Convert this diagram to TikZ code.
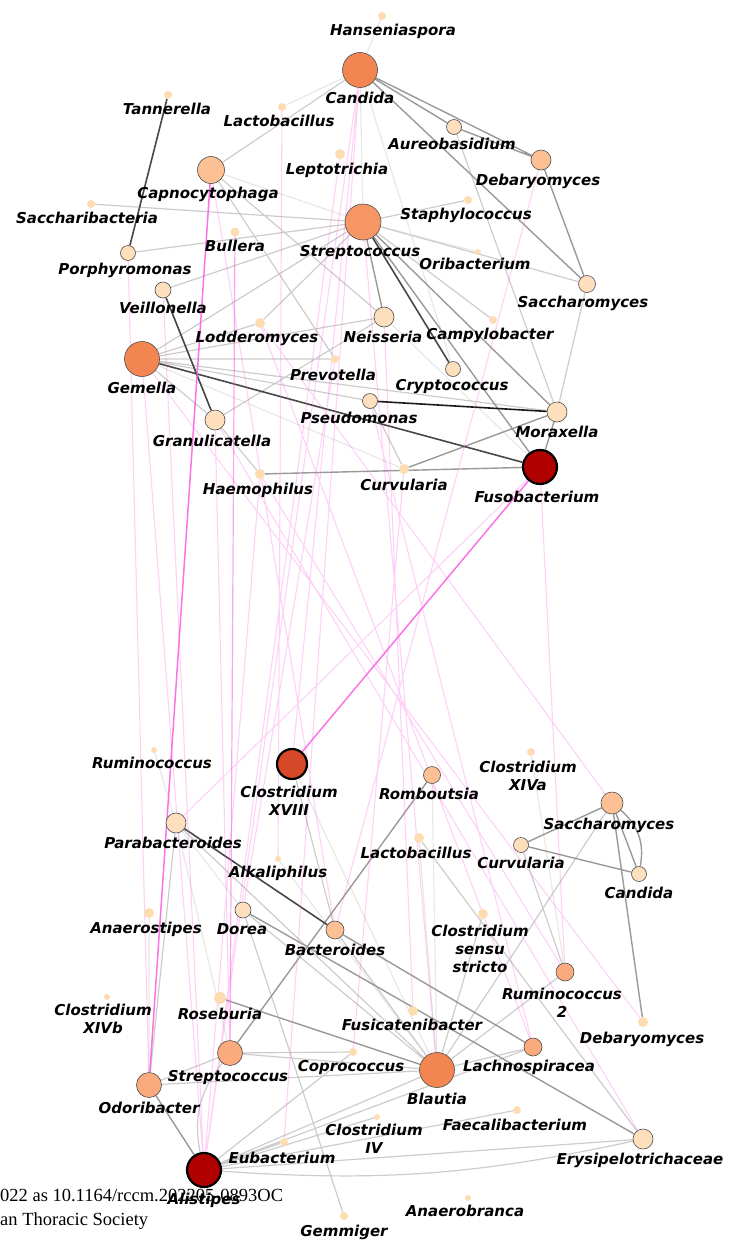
\documentclass[tikz,border=0pt]{standalone}
\usepackage{fontspec}
\newfontfamily\taxfont{DejaVu Sans}
\newfontfamily\footfont{Liberation Serif}
\usetikzlibrary{backgrounds}
\definecolor{orng}{RGB}{243,134,80}
\definecolor{orngl}{RGB}{246,150,100}
\definecolor{salmon}{RGB}{250,170,125}
\definecolor{peach}{RGB}{253,192,148}
\definecolor{pale}{RGB}{253,223,190}
\definecolor{dotc}{RGB}{253,220,178}
\definecolor{dred}{RGB}{176,0,0}
\definecolor{redor}{RGB}{214,72,40}
\definecolor{pinkE}{RGB}{250,90,225}
\tikzset{
  taxon/.style={circle, draw=black!70, line width=0.6pt, inner sep=0pt},
  hub/.style={circle, draw=black, line width=2.2pt, inner sep=0pt, minimum size=34pt},
  dot/.style={circle, fill=dotc, inner sep=0pt, minimum size=8pt},
  tiny/.style={circle, fill=dotc, inner sep=0pt, minimum size=6pt},
  xl/.style={taxon, minimum size=35pt},
  lg/.style={taxon, minimum size=25pt},
  md/.style={taxon, minimum size=20pt},
  sm/.style={taxon, minimum size=15pt},
  lab/.style={font=\taxfont\bfseries\itshape\fontsize{15}{18}\selectfont, inner sep=0pt, align=center},
  foot/.style={font=\footfont\fontsize{18.5}{22}\selectfont, inner sep=0pt},
  darkE/.style={draw=black!72, line width=1.6pt},
  blackE/.style={draw=black!90, line width=1.6pt},
  midE/.style={draw=black!40, line width=1.4pt},
  liteE/.style={draw=black!20, line width=1.2pt},
  faintE/.style={draw=black!9, line width=1.2pt},
  strongP/.style={draw=pinkE, line width=1.5pt, opacity=.85},
  midP/.style={draw=pinkE, line width=1.2pt, opacity=.55},
  liteP/.style={draw=pinkE, line width=1.1pt, opacity=.27},
}

\begin{document}
\begin{tikzpicture}[x=1pt, y=-1pt]
\useasboundingbox (0,0) rectangle (733,1240);

% upper network
\node[dot] (hans) at (382,16) {};
\node[xl, fill=orng] (candT) at (360,70) {};
\node[dot] (tann) at (168,95) {};
\node[dot] (lactT) at (282,107) {};
\node[taxon, fill=peach, minimum size=27pt] (capno) at (211,170) {};
\node[dot, minimum size=10pt] (lepto) at (340,154) {};
\node[dot] (sacch) at (91,204) {};
\node[dot, minimum size=9pt] (bull) at (235,232) {};
\node[taxon, fill=orngl, minimum size=36pt] (strT) at (363,222) {};
\node[sm, fill=pale] (aureo) at (454,127) {};
\node[md, fill=peach] (debT) at (541,160) {};
\node[dot] (staph) at (468,200) {};
\node[tiny] (orib) at (478,252) {};
\node[taxon, fill=pale, minimum size=17pt] (sacT) at (587,284) {};
\node[sm, fill=pale] (porph) at (128,253) {};
\node[taxon, fill=pale, minimum size=16pt] (veil) at (163,290) {};
\node[dot, minimum size=10pt] (lodd) at (260,323) {};
\node[md, fill=pale] (neis) at (384,317) {};
\node[dot] (campy) at (493,320) {};
\node[xl, fill=orng] (gem) at (142,359) {};
\node[dot] (prev) at (335,359) {};
\node[sm, fill=pale] (crypto) at (453,369) {};
\node[sm, fill=pale] (pseu) at (370,401) {};
\node[md, fill=pale] (morax) at (557,412) {};
\node[md, fill=pale] (granu) at (215,420) {};
\node[dot, minimum size=10pt] (haem) at (260,474) {};
\node[dot, minimum size=10pt] (curvT) at (404,469) {};
\node[hub, fill=dred] (fuso) at (540,467) {};

% lower network
\node[tiny] (rumi) at (154,750) {};
\node[hub, fill=redor, minimum size=30pt] (cXVIII) at (292,764) {};
\node[taxon, fill=peach, minimum size=17pt] (romb) at (432,775) {};
\node[dot] (cXIVa) at (531,752) {};
\node[taxon, fill=peach, minimum size=22pt] (sacB) at (612,803) {};
\node[md, fill=pale] (parab) at (176,823) {};
\node[dot, minimum size=10pt] (lactB) at (419,838) {};
\node[sm, fill=pale] (curvB) at (521,845) {};
\node[sm, fill=pale] (candB) at (639,874) {};
\node[tiny] (alka) at (278,859) {};
\node[dot, minimum size=10pt] (anaero) at (149,913) {};
\node[taxon, fill=pale, minimum size=16pt] (dorea) at (243,910) {};
\node[taxon, fill=peach, minimum size=18pt] (bacter) at (335,930) {};
\node[dot, minimum size=10pt] (cSS) at (483,914) {};
\node[taxon, fill=salmon, minimum size=18pt] (rum2) at (565,972) {};
\node[tiny] (cXIVb) at (107,997) {};
\node[dot, minimum size=12pt] (roseb) at (220,998) {};
\node[dot, minimum size=10pt] (fusic) at (413,1011) {};
\node[dot, minimum size=10pt] (debB) at (643,1022) {};
\node[lg, fill=salmon] (strB) at (230,1053) {};
\node[dot] (copro) at (353,1052) {};
\node[xl, fill=orng] (blaut) at (437,1070) {};
\node[taxon, fill=salmon, minimum size=18pt] (lachno) at (533,1047) {};
\node[lg, fill=salmon] (odori) at (149,1085) {};
\node[dot] (faecal) at (517,1110) {};
\node[tiny] (cIV) at (377,1117) {};
\node[dot] (eubac) at (284,1142) {};
\node[md, fill=pale] (erysi) at (643,1139) {};
\node[hub, fill=dred] (alist) at (204,1170) {};
\node[tiny] (anaerob) at (468,1198) {};
\node[dot] (gemmi) at (344,1216) {};

\begin{scope}[on background layer]
\draw[faintE] (parab) -- (dorea) (anaero) -- (odori) (cXVIII) -- (blaut) (rumi) -- (parab)
  (alka) -- (blaut) (cXIVa) -- (rum2) (candT) -- (crypto) (orib) -- (strT) (lactT) -- (candT)
  (neis) -- (fuso) (gem) -- (curvT) (parab) -- (strB) (romb) -- (blaut) (lactB) -- (blaut)
  (capno) -- (strT) (hans) -- (candT) (candT) -- (strT);
\draw[liteE] (capno) -- (candT) (sacch) -- (strT) (lodd) -- (strT) (strT) -- (campy)
  (strT) -- (staph) (gem) -- (strT) (gem) -- (neis) (gem) -- (prev) (gem) -- (morax)
  (gem) -- (lodd) (gem) -- (granu) (gem) -- (pseu) (aureo) -- (morax) (sacT) -- (morax)
  (capno) -- (neis) (capno) -- (prev) (granu) -- (neis) (granu) -- (haem) (strT) -- (sacT)
  (porph) -- (strT) (veil) -- (strT) (pseu) -- (curvT);
\draw[liteE] (strB) -- (blaut) (alist) -- (blaut) (alist) -- (copro) (alist) -- (erysi)
  (alist) to[bend right=8] (erysi) (alist) -- (cIV) (alist) -- (faecal)
  (alist) to[bend left=25] (strB) (odori) -- (strB) (odori) -- (blaut) (dorea) -- (blaut)
  (bacter) -- (blaut) (blaut) -- (rum2) (blaut) -- (cSS) (blaut) -- (lachno) (curvB) -- (rum2)
  (sacB) -- (blaut) (dorea) -- (gemmi) (cXVIII) -- (bacter) (parab) -- (odori)
  (parab) -- (blaut) (lactB) -- (erysi) (alist) -- (lachno) (strB) -- (copro) (alist) -- (eubac);
\draw[midE] (strT) -- (neis) (romb) -- (strB) (roseb) -- (blaut) (bacter) -- (lachno)
  (dorea) -- (erysi) (sacB) -- (curvB) (curvB) -- (candB) (sacB) -- (candB)
  (sacB) to[bend left=30] (candB) (sacB) -- (debB) (candT) -- (aureo) (candT) -- (debT)
  (aureo) -- (debT) (candT) -- (sacT) (debT) -- (sacT) (strT) -- (morax) (strT) -- (fuso)
  (morax) -- (fuso) (alist) -- (odori) (haem) -- (fuso) (curvT) -- (morax);
\draw[darkE] (tann) -- (porph) (veil) -- (granu) (gem) -- (fuso) (strT) -- (crypto)
  (parab) -- (bacter);
\draw[blackE] (pseu) -- (morax);
\draw[liteP] (gem) -- (debB) (gem) -- (alist) (veil) -- (alist) (porph) -- (odori)
  (granu) -- (erysi) (haem) -- (rum2) (candT) -- (cXVIII) (candT) -- (alist) (candT) -- (eubac)
  (lepto) -- (alist) (lactT) -- (alka) (strT) -- (blaut) (neis) -- (fusic) (pseu) -- (lachno)
  (debT) -- (bacter) (curvT) -- (copro) (fuso) -- (parab) (fuso) -- (rum2) (lodd) -- (sacB)
  (lodd) -- (lachno) (prev) -- (dorea) (granu) -- (strB) (haem) -- (alist) (capno) -- (bacter);
\draw[midP] (bull) -- (strB);
\draw[strongP] (capno) -- (odori) (fuso) -- (cXVIII);
\end{scope}

\node[lab] (hans-l) at (393,31) {Hanseniaspora};
\node[lab] (candT-l) at (360,98) {Candida};
\node[lab] (tann-l) at (167,109) {Tannerella};
\node[lab] (lactT-l) at (279,121) {Lactobacillus};
\node[lab] (capno-l) at (208,194) {Capnocytophaga};
\node[lab] (lepto-l) at (337,170) {Leptotrichia};
\node[lab] (sacch-l) at (87,218) {Saccharibacteria};
\node[lab] (bull-l) at (235,246) {Bullera};
\node[lab] (strT-l) at (360,252) {Streptococcus};
\node[lab] (aureo-l) at (452,144) {Aureobasidium};
\node[lab] (debT-l) at (538,181) {Debaryomyces};
\node[lab] (staph-l) at (466,215) {Staphylococcus};
\node[lab] (orib-l) at (475,264) {Oribacterium};
\node[lab] (sacT-l) at (583,303) {Saccharomyces};
\node[lab] (porph-l) at (125,270) {Porphyromonas};
\node[lab] (veil-l) at (163,308) {Veillonella};
\node[lab] (lodd-l) at (257,338) {Lodderomyces};
\node[lab] (neis-l) at (383,337) {Neisseria};
\node[lab] (campy-l) at (490,335) {Campylobacter};
\node[lab] (gem-l) at (142,388) {Gemella};
\node[lab] (prev-l) at (333,375) {Prevotella};
\node[lab] (crypto-l) at (452,387) {Cryptococcus};
\node[lab] (pseu-l) at (359,418) {Pseudomonas};
\node[lab] (morax-l) at (557,432) {Moraxella};
\node[lab] (granu-l) at (212,441) {Granulicatella};
\node[lab] (haem-l) at (258,490) {Haemophilus};
\node[lab] (curvT-l) at (404,485) {Curvularia};
\node[lab] (fuso-l) at (537,497) {Fusobacterium};

\node[lab] (rumi-l) at (152,763) {Ruminococcus};
\node[lab] (cXVIII-l) at (289,801) {Clostridium\\XVIII};
\node[lab] (romb-l) at (429,794) {Romboutsia};
\node[lab] (cXIVa-l) at (528,776) {Clostridium\\XIVa};
\node[lab] (sacB-l) at (609,825) {Saccharomyces};
\node[lab] (parab-l) at (173,843) {Parabacteroides};
\node[lab] (lactB-l) at (416,853) {Lactobacillus};
\node[lab] (curvB-l) at (521,863) {Curvularia};
\node[lab] (candB-l) at (639,893) {Candida};
\node[lab] (alka-l) at (278,873) {Alkaliphilus};
\node[lab] (anaero-l) at (146,929) {Anaerostipes};
\node[lab] (dorea-l) at (242,929) {Dorea};
\node[lab] (bacter-l) at (335,950) {Bacteroides};
\node[lab] (cSS-l) at (480,949) {Clostridium\\sensu\\stricto};
\node[lab] (rum2-l) at (562,1003) {Ruminococcus\\2};
\node[lab] (cXIVb-l) at (103,1019) {Clostridium\\XIVb};
\node[lab] (roseb-l) at (220,1014) {Roseburia};
\node[lab] (fusic-l) at (412,1025) {Fusicatenibacter};
\node[lab] (debB-l) at (642,1039) {Debaryomyces};
\node[lab] (strB-l) at (228,1077) {Streptococcus};
\node[lab] (copro-l) at (351,1067) {Coprococcus};
\node[lab] (blaut-l) at (437,1099) {Blautia};
\node[lab] (lachno-l) at (529,1067) {Lachnospiracea};
\node[lab] (odori-l) at (149,1108) {Odoribacter};
\node[lab] (faecal-l) at (515,1125) {Faecalibacterium};
\node[lab] (cIV-l) at (374,1139) {Clostridium\\IV};
\node[lab] (eubac-l) at (282,1158) {Eubacterium};
\node[lab] (erysi-l) at (640,1160) {Erysipelotrichaceae};
\node[lab] (alist-l) at (204,1200) {Alistipes};
\node[lab] (anaerob-l) at (465,1211) {Anaerobranca};
\node[lab] (gemmi-l) at (344,1232) {Gemmiger};

\node[foot, anchor=base west] (doi) at (0,1201) {022 as 10.1164/rccm.202205-0893OC};
\node[foot, anchor=base west] (soc) at (0,1225) {an Thoracic Society};
\end{tikzpicture}
\end{document}
